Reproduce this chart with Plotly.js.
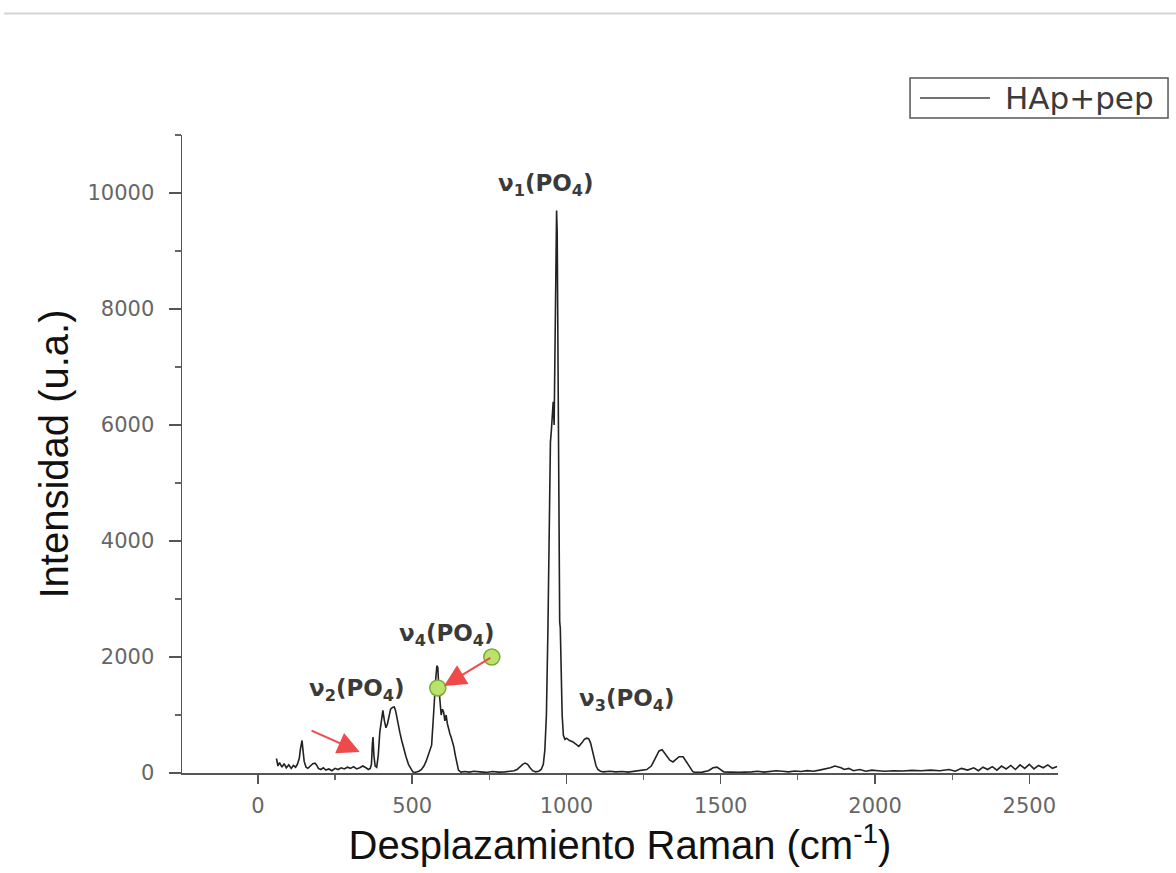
<!DOCTYPE html>
<html>
<head>
<meta charset="utf-8">
<script src="https://cdn.plot.ly/plotly-3.0.1.min.js"></script>
<style>
  html, body { margin: 0; padding: 0; background: #fff; }
  #chart { width: 1176px; height: 873px; }
</style>
</head>
<body>
<div id="chart"></div>
<script>
// Raman shift (cm-1)
const ramanShift = [
  60, 62, 65, 70, 78, 85, 92, 100, 108, 115, 122, 128, 134, 138, 141, 143, 146, 150, 156, 162,
  170, 178, 185, 190, 196, 204, 212, 220, 230, 240, 250, 260, 270, 280, 290, 300, 310, 320, 330, 340,
  350, 358, 364, 368, 371, 373, 376, 380, 385, 390, 395, 400, 405, 410, 415, 420, 425, 430, 436, 442,
  446, 450, 455, 460, 466, 472, 480, 488, 495, 502, 508, 515, 522, 530, 538, 545, 552, 558, 563, 568,
  572, 576, 580, 583, 586, 590, 594, 598, 602, 606, 610, 614, 618, 622, 626, 630, 635, 640, 645, 650,
  658, 670, 685, 700, 720, 740, 760, 780, 800, 815, 830, 840, 850, 858, 866, 874, 882, 890, 900, 910,
  918, 925, 930, 935, 940, 944, 948, 951, 954, 957, 960, 963, 966, 968, 970, 972, 974, 976, 978, 980,
  983, 986, 990, 995, 1000, 1010, 1020, 1030, 1040, 1050, 1058, 1065, 1072, 1078, 1084, 1090, 1096, 1102, 1110, 1120,
  1140, 1160, 1180, 1200, 1220, 1240, 1260, 1275, 1290, 1300, 1310, 1320, 1335, 1345, 1355, 1365, 1378, 1390, 1400, 1410,
  1420, 1440, 1460, 1475, 1488, 1500, 1510, 1530, 1560, 1600, 1620, 1640, 1660, 1680, 1700, 1720, 1740, 1760, 1780, 1800,
  1820, 1840, 1855, 1870, 1880, 1890, 1900, 1915, 1930, 1950, 1970, 1990, 2010, 2030, 2060, 2090, 2120, 2150, 2180, 2210,
  2240, 2260, 2280, 2300, 2320, 2335, 2350, 2365, 2380, 2395, 2410, 2425, 2440, 2455, 2470, 2485, 2500, 2515, 2530, 2545,
  2560, 2575, 2590
];
// Intensity (u.a.)
const intensity = [
  250, 200, 120, 180, 100, 160, 90, 140, 80, 130, 100, 150, 250, 420, 540, 560, 400, 200, 100, 80,
  120, 160, 170, 140, 80, 60, 90, 50, 70, 40, 80, 60, 90, 70, 100, 80, 110, 70, 90, 120,
  90, 60, 80, 150, 500, 620, 300, 120, 100, 300, 700, 950, 1080, 900, 780, 850, 1000, 1100, 1130, 1140,
  1080, 950, 820, 700, 560, 420, 280, 150, 70, 20, 10, 20, 30, 60, 120, 200, 300, 400, 480, 900,
  1300, 1600, 1850, 1820, 1500, 1250, 1000, 1100, 1050, 900, 1000, 850, 750, 680, 620, 560, 450, 300, 150, 50,
  15, 25, 15, 30, 20, 10, 25, 15, 20, 30, 40, 60, 110, 150, 170, 150, 90, 40, 20, 30,
  60, 150, 400, 1000, 2500, 4500, 5700, 5900, 6200, 6400, 6000, 7500, 9000, 9700, 9300, 7500, 5000, 3000, 2600, 2500,
  1800, 1000, 650, 580, 600, 560, 540, 500, 460, 520, 580, 600, 590, 520, 380, 250, 120, 60, 30, 20,
  30, 20, 25, 15, 30, 40, 60, 120, 280, 380, 400, 330, 220, 190, 240, 280, 280, 180, 80, 20,
  10, 15, 40, 90, 100, 60, 20, 15, 10, 20, 30, 15, 25, 40, 30, 20, 35, 25, 40, 30,
  50, 70, 90, 120, 110, 90, 60, 80, 40, 60, 30, 50, 40, 30, 40, 35, 45, 40, 50, 40,
  60, 30, 80, 50, 90, 40, 100, 60, 110, 50, 120, 70, 130, 60, 140, 80, 150, 70, 130, 90,
  140, 80, 110
];
const seriesName = "HAp+pep";
const xTickVals = [0, 500, 1000, 1500, 2000, 2500];
const xTickText = ["0", "500", "1000", "1500", "2000", "2500"];
const yTickVals = [0, 2000, 4000, 6000, 8000, 10000];
const yTickText = ["0", "2000", "4000", "6000", "8000", "10000"];
const bandLabels = [
  "ν<sub>1</sub>(PO<sub>4</sub>)",
  "ν<sub>2</sub>(PO<sub>4</sub>)",
  "ν<sub>3</sub>(PO<sub>4</sub>)",
  "ν<sub>4</sub>(PO<sub>4</sub>)"
];

const trace = {
  x: ramanShift,
  y: intensity,
  type: 'scatter',
  mode: 'lines',
  name: seriesName,
  line: { color: '#222', width: 1.6 },
  showlegend: false
};

const labelFont = { family: 'DejaVu Sans, sans-serif', size: 23, color: '#3a3a3a', weight: 700 };
const arrowRed = '#ee4a4a';
const tickFont = { family: 'DejaVu Sans, sans-serif', size: 21, color: '#666' };
const titleFont = { family: 'Liberation Sans, Arial, sans-serif', size: 40, color: '#111' };

const layout = {
  width: 1176,
  height: 873,
  margin: { l: 182, r: 118, t: 135, b: 100, pad: 0 },
  paper_bgcolor: '#fff',
  plot_bgcolor: '#fff',
  showlegend: false,
  xaxis: {
    range: [-246, 2593],
    tickmode: 'array', tickvals: xTickVals, ticktext: xTickText,
    ticks: 'outside', ticklen: 9, tickwidth: 1.5, tickcolor: '#555',
    minor: { dtick: 250, ticks: 'outside', ticklen: 5, tickwidth: 1.2, tickcolor: '#666' },
    showline: true, linecolor: '#555', linewidth: 1.5,
    showgrid: false, zeroline: false,
    tickfont: tickFont, ticklabelstandoff: 4,
    title: { text: 'Desplazamiento Raman (cm<sup>-1</sup>)', font: titleFont, standoff: 8 }
  },
  yaxis: {
    range: [0, 11000],
    tickmode: 'array', tickvals: yTickVals, ticktext: yTickText,
    ticks: 'outside', ticklen: 12, tickwidth: 1.5, tickcolor: '#555',
    minor: { tickvals: [1000, 3000, 5000, 7000, 9000, 11000], ticks: 'outside', ticklen: 6, tickwidth: 1.2, tickcolor: '#666' },
    showline: true, linecolor: '#555', linewidth: 1.5,
    showgrid: false, zeroline: false,
    tickfont: tickFont, ticklabelstandoff: 10,
    title: { text: 'Intensidad (u.a.)', font: titleFont, standoff: 6 }
  },
  annotations: [
    { x: 935, y: 10140, xref: 'x', yref: 'y', text: bandLabels[0], showarrow: false, font: labelFont },
    { x: 321, y: 1430, xref: 'x', yref: 'y', text: bandLabels[1], showarrow: false, font: labelFont },
    { x: 1196, y: 1260, xref: 'x', yref: 'y', text: bandLabels[2], showarrow: false, font: labelFont },
    { x: 613, y: 2380, xref: 'x', yref: 'y', text: bandLabels[3], showarrow: false, font: labelFont },
    { x: 330, y: 362, ax: 169, ay: 741, xref: 'x', yref: 'y', axref: 'x', ayref: 'y',
      text: '', showarrow: true, arrowhead: 2, arrowsize: 2.2, arrowwidth: 2, arrowcolor: arrowRed },
    { x: 603, y: 1500, ax: 758, ay: 2000, xref: 'x', yref: 'y', axref: 'x', ayref: 'y',
      text: '', showarrow: true, arrowhead: 2, arrowsize: 2.2, arrowwidth: 2, arrowcolor: arrowRed },
    // legend text
    { x: 0.9372, y: 1.0580, xref: 'paper', yref: 'paper', xanchor: 'left', yanchor: 'middle',
      text: seriesName, showarrow: false,
      font: { family: 'DejaVu Sans, sans-serif', size: 31, color: '#3a3a3a' } }
  ],
  shapes: [
    { type: 'line', xref: 'paper', yref: 'paper', x0: -0.203, x1: 1.135, y0: 1.1904, y1: 1.1904,
      line: { color: '#d4d4d4', width: 2 } },
    // legend box and sample line
    { type: 'rect', xref: 'paper', yref: 'paper', x0: 0.8311, x1: 1.1256, y0: 1.0266, y1: 1.0893,
      line: { color: '#555', width: 1.5 }, fillcolor: 'rgba(0,0,0,0)' },
    { type: 'line', xref: 'paper', yref: 'paper', x0: 0.8425, x1: 0.9224, y0: 1.0580, y1: 1.0580,
      line: { color: '#444', width: 1.5 } },
    { type: 'circle', xref: 'x', yref: 'y', xsizemode: 'pixel', ysizemode: 'pixel',
      xanchor: 583, yanchor: 1466, x0: -8, x1: 8, y0: -8, y1: 8,
      fillcolor: '#b9e36a', line: { color: '#7aa83a', width: 1.5 } },
    { type: 'circle', xref: 'x', yref: 'y', xsizemode: 'pixel', ysizemode: 'pixel',
      xanchor: 758, yanchor: 2000, x0: -8, x1: 8, y0: -8, y1: 8,
      fillcolor: '#b9e36a', line: { color: '#7aa83a', width: 1.5 } }
  ]
};

Plotly.newPlot('chart', [trace], layout, { displayModeBar: false, staticPlot: true });
</script>
</body>
</html>
